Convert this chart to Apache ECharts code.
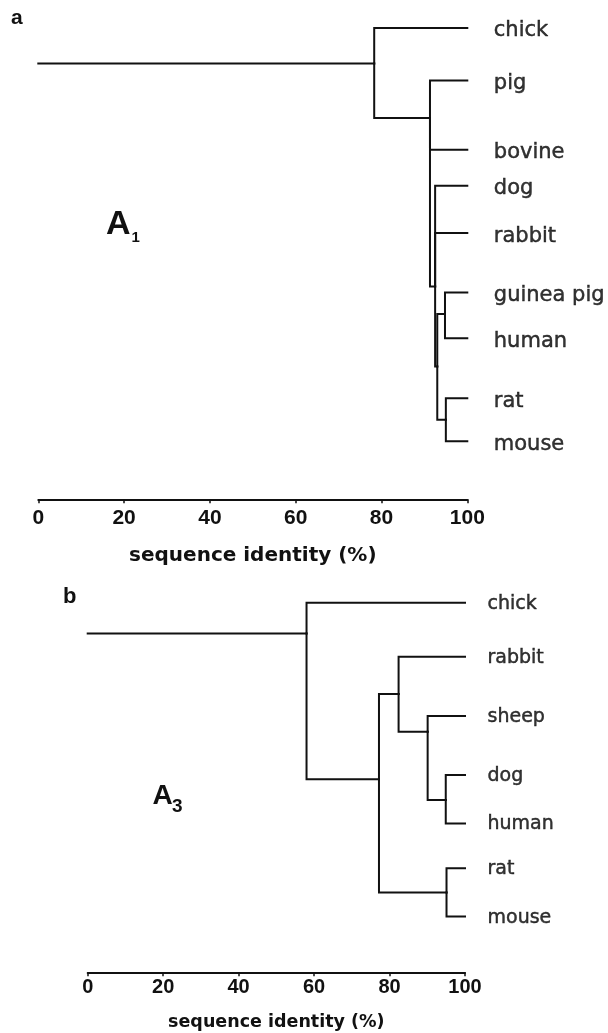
<!DOCTYPE html>
<html>
<head>
<meta charset="utf-8">
<title>Sequence identity dendrograms</title>
<script src="https://cdn.jsdelivr.net/npm/echarts@6/dist/echarts.min.js"></script>
<style>
  html, body { margin: 0; padding: 0; background: #fff; }
  #chart { width: 608px; height: 1033px; }
</style>
</head>
<body>
<div id="chart"></div>
<script>
// ---- Data -------------------------------------------------------------
// Tick values of the sequence identity axis (%)
const identityTicks = [0, 20, 40, 60, 80, 100];

// Panel a (A1): species and clustering nodes with their identity level (%)
const leavesA = ['chick', 'pig', 'bovine', 'dog', 'rabbit', 'guinea pig', 'human', 'rat', 'mouse'];
const nodesA = ['R', 'N1', 'N2', 'N3', 'N4', 'N5'];
const nodeIdentityA = [78.3, 91.3, 92.5, 93.0, 94.8, 95.0];
const nodeChildrenA = [
  ['chick', 'N1'],
  ['pig', 'bovine', 'N2'],
  ['dog', 'rabbit', 'N3'],
  ['N4', 'N5'],
  ['guinea pig', 'human'],
  ['rat', 'mouse']
];

// Panel b (A3)
const leavesB = ['chick', 'rabbit', 'sheep', 'dog', 'human', 'rat', 'mouse'];
const nodesB = ['R', 'B1', 'B2', 'B3', 'B4', 'B5'];
const nodeIdentityB = [58.0, 77.2, 82.4, 90.1, 94.9, 95.1];
const nodeChildrenB = [
  ['chick', 'B1'],
  ['B2', 'B5'],
  ['rabbit', 'B3'],
  ['sheep', 'B4'],
  ['dog', 'human'],
  ['rat', 'mouse']
];

// ---- Layout: vertical row of each leaf and of each node's join point ---
const rowsA = {
  'chick': 0, 'pig': 1.14, 'bovine': 2.65, 'dog': 3.43, 'rabbit': 4.46,
  'guinea pig': 5.75, 'human': 6.75, 'rat': 8.05, 'mouse': 8.99,
  'R': 0.77, 'N1': 1.96, 'N2': 5.62, 'N3': 7.36, 'N4': 6.22, 'N5': 8.52
};
const rowsB = {
  'chick': 0, 'rabbit': 1.125, 'sheep': 2.36, 'dog': 3.59, 'human': 4.6,
  'rat': 5.53, 'mouse': 6.54,
  'R': 0.64, 'B1': 3.68, 'B2': 1.90, 'B3': 2.69, 'B4': 4.11, 'B5': 6.04
};

const INK = '#111';

// Elbow segments of a dendrogram, in (identity, row) coordinates
function treeSegments(nodes, identity, children, rows) {
  const idOf = {};
  nodes.forEach((n, i) => { idOf[n] = identity[i]; });
  const segs = [];
  // stem from 0 % to the root node
  segs.push({ coords: [[identityTicks[0], rows[nodes[0]]], [idOf[nodes[0]], rows[nodes[0]]]] });
  nodes.forEach((n, i) => {
    const x = identity[i];
    children[i].forEach(c => {
      const cx = (c in idOf) ? idOf[c] : identityTicks[identityTicks.length - 1];
      segs.push({ coords: [[x, rows[n]], [x, rows[c]], [cx, rows[c]]] });
    });
  });
  return segs;
}

function leafPoints(leaves, rows) {
  const xEnd = identityTicks[identityTicks.length - 1];
  return leaves.map(l => ({ name: l, value: [xEnd, rows[l]] }));
}

function identityAxis(gridIndex, labelSize, labelMargin, nameSize, nameGap) {
  return {
    gridIndex: gridIndex,
    type: 'value',
    min: identityTicks[0],
    max: identityTicks[identityTicks.length - 1],
    interval: identityTicks[1] - identityTicks[0],
    position: 'bottom',
    splitLine: { show: false },
    axisLine: { show: true, onZero: false, lineStyle: { color: INK, width: 2 } },
    axisTick: { show: true, inside: false, length: 4, lineStyle: { color: INK, width: 1.5 } },
    axisLabel: {
      color: INK, fontFamily: 'Liberation Sans', fontWeight: 'bold',
      fontSize: labelSize, margin: labelMargin
    },
    name: 'sequence identity (%)',
    nameLocation: 'middle',
    nameGap: nameGap,
    nameTextStyle: { color: INK, fontFamily: 'DejaVu Sans', fontWeight: 'bold', fontSize: nameSize }
  };
}

function leafLabels(xAxisIndex, leaves, rows, fontSize, distance, dy) {
  return {
    type: 'scatter', xAxisIndex: xAxisIndex, yAxisIndex: xAxisIndex,
    symbol: 'circle', symbolSize: 1, silent: true, clip: false,
    itemStyle: { color: 'rgba(0,0,0,0)' },
    label: {
      show: true, position: 'right', distance: distance, offset: [0, dy],
      formatter: p => p.name,
      color: '#000', fontFamily: 'DejaVu Sans', fontSize: fontSize,
      textBorderColor: '#000', textBorderWidth: 0.45
    },
    data: leafPoints(leaves, rows)
  };
}

const chart = echarts.init(document.getElementById('chart'), null, { renderer: 'canvas' });

const option = {
  animation: false,
  backgroundColor: '#fff',
  grid: [
    { left: 38.3, right: 140.7, top: 5, bottom: 533.7 },
    { left: 87.7, right: 143, top: 578.7, bottom: 60.7 }
  ],
  xAxis: [
    identityAxis(0, 21, 8, 20, 46),
    identityAxis(1, 20, 5, 17.5, 41)
  ],
  yAxis: [
    { gridIndex: 0, type: 'value', min: -0.5, max: 10.25, inverse: true, show: false },
    { gridIndex: 1, type: 'value', min: -0.5, max: 7.70, inverse: true, show: false }
  ],
  series: [
    {
      type: 'lines', coordinateSystem: 'cartesian2d', xAxisIndex: 0, yAxisIndex: 0,
      polyline: true, clip: false, silent: true,
      lineStyle: { color: INK, width: 2, opacity: 1, join: 'miter', cap: 'square' },
      data: treeSegments(nodesA, nodeIdentityA, nodeChildrenA, rowsA)
    },
    {
      type: 'lines', coordinateSystem: 'cartesian2d', xAxisIndex: 1, yAxisIndex: 1,
      polyline: true, clip: false, silent: true,
      lineStyle: { color: INK, width: 2, opacity: 1, join: 'miter', cap: 'square' },
      data: treeSegments(nodesB, nodeIdentityB, nodeChildrenB, rowsB)
    },
    leafLabels(0, leavesA, rowsA, 21, 26, 3),
    leafLabels(1, leavesB, rowsB, 19, 22, 1)
  ],
  graphic: [
    // panel letters
    { type: 'text', left: 11, top: 8, style: { text: 'a', fill: INK, font: 'bold 21px "Liberation Sans"' } },
    { type: 'text', left: 63, top: 586, style: { text: 'b', fill: INK, font: 'bold 22px "Liberation Sans"' } },
    // A1
    { type: 'text', x: 106, y: 225, style: { text: 'A', fill: INK, font: 'bold 34px "Liberation Sans"', verticalAlign: 'middle' } },
    { type: 'text', x: 131.5, y: 237.5, style: { text: '1', fill: INK, font: 'bold 15px "Liberation Sans"', verticalAlign: 'middle' } },
    // A3
    { type: 'text', x: 152.5, y: 796.3, style: { text: 'A', fill: INK, font: 'bold 28px "Liberation Sans"', verticalAlign: 'middle' } },
    { type: 'text', x: 172, y: 807, style: { text: '3', fill: INK, font: 'bold 19px "Liberation Sans"', verticalAlign: 'middle' } }
  ]
};

chart.setOption(option);
</script>
</body>
</html>
